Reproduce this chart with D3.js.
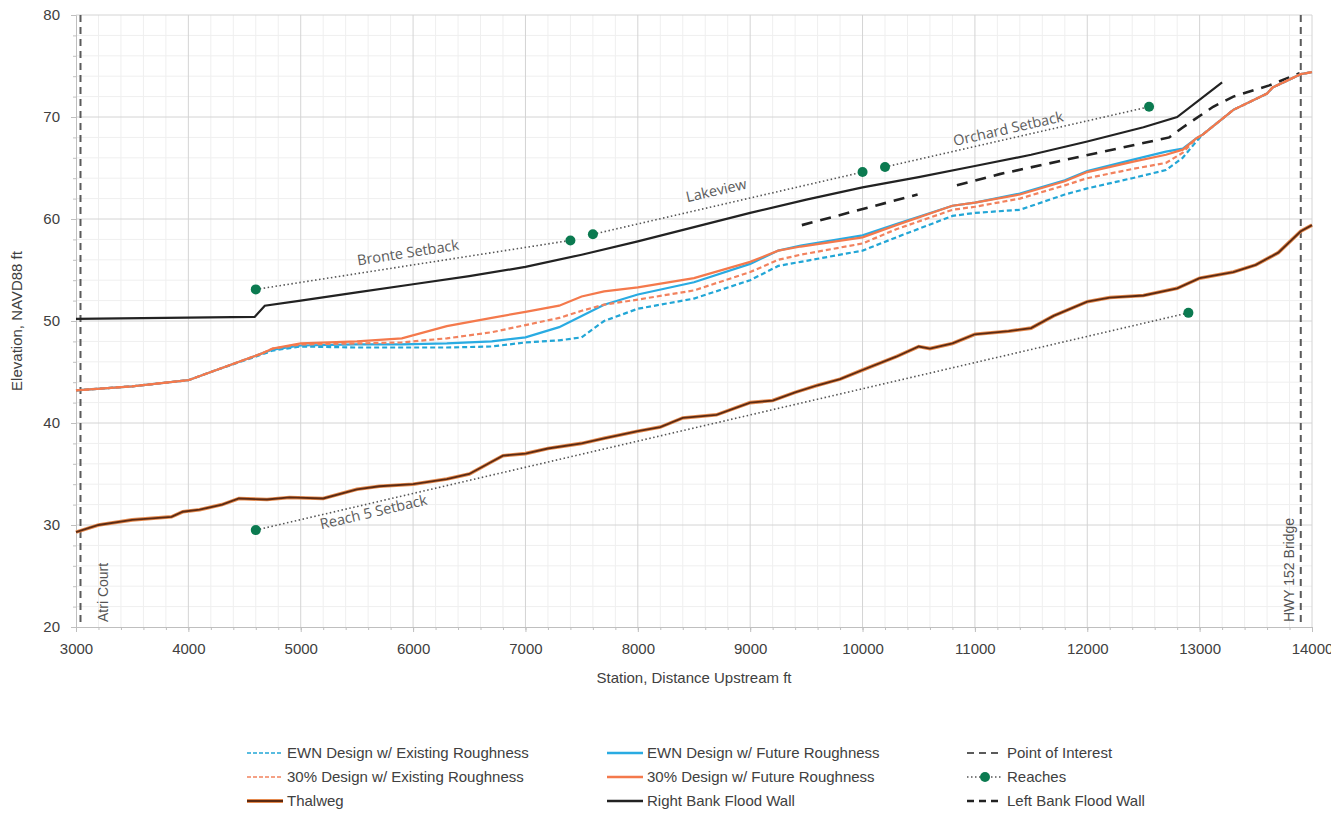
<!DOCTYPE html>
<html>
<head>
<meta charset="utf-8">
<script src="https://cdn.jsdelivr.net/npm/d3@7"></script>
<style>
  body { margin: 0; background: #fff; }
  text { font-family: "Liberation Sans", Arial, sans-serif; }
</style>
</head>
<body>
<div id="chart"></div>
<script>
// ---- Water surface profiles (shared stations) ----
const stations = [3000, 3500, 4000, 4250, 4650, 4750, 5000, 5500, 5900, 6300, 6700, 7000, 7300, 7500, 7700, 8000, 8500, 9000, 9250, 9450, 10000, 10300, 10800, 11000, 11400, 11800, 12000, 12400, 12700, 12850, 12970, 13030, 13300, 13600, 13650, 13900, 14000];
const ewnExisting = [43.2, 43.6, 44.2, 45.2, 46.7, 47.1, 47.5, 47.4, 47.4, 47.4, 47.5, 47.9, 48.1, 48.4, 50.0, 51.2, 52.2, 54.0, 55.4, 55.8, 56.9, 58.2, 60.3, 60.6, 60.9, 62.4, 63.0, 64.0, 64.8, 66.0, 67.6, 68.3, 70.7, 72.3, 72.9, 74.2, 74.4];
const ewnFuture = [43.2, 43.6, 44.2, 45.2, 46.8, 47.2, 47.6, 47.7, 47.7, 47.8, 48.0, 48.4, 49.4, 50.5, 51.6, 52.6, 53.8, 55.6, 56.9, 57.4, 58.4, 59.5, 61.3, 61.6, 62.5, 63.8, 64.7, 65.8, 66.6, 66.9, 67.9, 68.3, 70.7, 72.3, 72.9, 74.2, 74.4];
const d30Existing = [43.2, 43.6, 44.2, 45.2, 46.8, 47.3, 47.7, 47.8, 47.9, 48.3, 48.9, 49.6, 50.3, 51.0, 51.6, 52.1, 53.0, 54.8, 56.0, 56.5, 57.6, 59.0, 60.9, 61.2, 62.0, 63.3, 64.0, 64.9, 65.5, 66.5, 67.9, 68.3, 70.7, 72.3, 72.9, 74.2, 74.4];
const d30Future = [43.2, 43.6, 44.2, 45.2, 46.8, 47.3, 47.8, 48.0, 48.3, 49.5, 50.3, 50.9, 51.5, 52.4, 52.9, 53.3, 54.2, 55.8, 56.9, 57.3, 58.2, 59.4, 61.3, 61.6, 62.4, 63.7, 64.6, 65.6, 66.3, 66.8, 67.9, 68.3, 70.7, 72.3, 72.9, 74.2, 74.4];

// ---- Thalweg ----
const thalwegStations = [3000, 3200, 3500, 3850, 3950, 4100, 4300, 4450, 4700, 4900, 5200, 5500, 5700, 6000, 6300, 6500, 6700, 6800, 7000, 7200, 7500, 7700, 8000, 8200, 8400, 8700, 9000, 9200, 9400, 9600, 9800, 10000, 10300, 10500, 10600, 10800, 11000, 11300, 11500, 11700, 12000, 12200, 12500, 12800, 13000, 13300, 13500, 13700, 13900, 14000];
const thalwegElev = [29.3, 30.0, 30.5, 30.8, 31.3, 31.5, 32.0, 32.6, 32.5, 32.7, 32.6, 33.5, 33.8, 34.0, 34.5, 35.0, 36.2, 36.8, 37.0, 37.5, 38.0, 38.5, 39.2, 39.6, 40.5, 40.8, 42.0, 42.2, 43.0, 43.7, 44.3, 45.2, 46.5, 47.5, 47.3, 47.8, 48.7, 49.0, 49.3, 50.5, 51.9, 52.3, 52.5, 53.2, 54.2, 54.8, 55.5, 56.7, 58.8, 59.4];

// ---- Flood walls ----
const rightWallStations = [3000, 4590, 4680, 5000, 5500, 6000, 6500, 7000, 7500, 8000, 8500, 9000, 9500, 10000, 10500, 11000, 11500, 12000, 12500, 12800, 13200];
const rightWallElev = [50.2, 50.4, 51.5, 52.0, 52.8, 53.6, 54.4, 55.3, 56.5, 57.8, 59.2, 60.6, 61.9, 63.1, 64.1, 65.2, 66.3, 67.6, 69.0, 70.0, 73.4];
const leftWallStations = [9460, 10490, 10660, 10840, 11220, 12730, 12840, 13120, 13300, 13620, 13890];
const leftWallElev = [59.4, 62.4, null, 63.3, 64.4, 68.0, 68.9, 71.0, 72.0, 73.1, 74.3];

// ---- Reaches ----
const reachNames = ["Bronte Setback", "Lakeview", "Orchard Setback", "Reach 5 Setback"];
const reachStartStation = [4600, 7600, 10200, 4600];
const reachStartElev = [53.1, 58.5, 65.1, 29.5];
const reachEndStation = [7400, 10000, 12550, 12900];
const reachEndElev = [57.9, 64.6, 71.0, 50.8];

// ---- Points of interest ----
const poiNames = ["Atri Court", "HWY 152 Bridge"];
const poiStations = [3040, 13900];

// ---- Axis ticks ----
const xTicks = [3000, 4000, 5000, 6000, 7000, 8000, 9000, 10000, 11000, 12000, 13000, 14000];
const yTicks = [20, 30, 40, 50, 60, 70, 80];

const legendNames = [
    "EWN Design w/ Existing Roughness", "EWN Design w/ Future Roughness", "Point of Interest",
    "30% Design w/ Existing Roughness", "30% Design w/ Future Roughness", "Reaches",
    "Thalweg", "Right Bank Flood Wall", "Left Bank Flood Wall"
];

// Set the dimensions and margins of the graph
const margin = { top: 15, right: 19, bottom: 188, left: 76 },
    width = 1331 - margin.left - margin.right,
    height = 815 - margin.top - margin.bottom;

const svgRoot = d3.select("#chart")
    .append("svg")
    .attr("width", 1331)
    .attr("height", 815);

const svg = svgRoot.append("g")
    .attr("transform", `translate(${margin.left},${margin.top})`);

const x = d3.scaleLinear().domain([3000, 14000]).range([0, width]);
const y = d3.scaleLinear().domain([20, 80]).range([height, 0]);

// Minor gridlines
svg.append("g").selectAll("line")
    .data(d3.range(3200, 14000, 200).filter(v => v % 1000 !== 0))
    .join("line")
    .attr("x1", d => x(d)).attr("x2", d => x(d))
    .attr("y1", 0).attr("y2", height)
    .attr("stroke", "#efefef");
svg.append("g").selectAll("line")
    .data(d3.range(22, 80, 2).filter(v => v % 10 !== 0))
    .join("line")
    .attr("x1", 0).attr("x2", width)
    .attr("y1", d => y(d)).attr("y2", d => y(d))
    .attr("stroke", "#efefef");

// Major gridlines
svg.append("g").selectAll("line")
    .data(xTicks.slice(1))
    .join("line")
    .attr("x1", d => x(d)).attr("x2", d => x(d))
    .attr("y1", 0).attr("y2", height)
    .attr("stroke", "#d4d4d4");
svg.append("g").selectAll("line")
    .data(yTicks.slice(1))
    .join("line")
    .attr("x1", 0).attr("x2", width)
    .attr("y1", d => y(d)).attr("y2", d => y(d))
    .attr("stroke", "#d4d4d4");

// X axis
svg.append("g")
    .attr("transform", `translate(0,${height})`)
    .call(d3.axisBottom(x).tickValues(xTicks).tickFormat(d3.format("d")).tickSize(5).tickPadding(11));
svg.append("g")
    .attr("transform", `translate(0,${height})`)
    .call(d3.axisBottom(x).tickValues(d3.range(3200, 14000, 200)).tickFormat("").tickSize(3))
    .select(".domain").remove();

// Y axis
svg.append("g")
    .call(d3.axisLeft(y).tickValues(yTicks).tickSize(5).tickPadding(11));
svg.append("g")
    .call(d3.axisLeft(y).tickValues(d3.range(22, 80, 2)).tickFormat("").tickSize(3))
    .select(".domain").remove();

svg.selectAll(".domain, .tick line").attr("stroke", "#bfbfbf");
svg.selectAll(".tick text").attr("fill", "#404040").style("font-size", "15px");

svg.append("text")
    .attr("x", width / 2)
    .attr("y", height + 56)
    .attr("text-anchor", "middle")
    .attr("fill", "#404040")
    .style("font-size", "15px")
    .text("Station, Distance Upstream ft");

svg.append("text")
    .attr("transform", "rotate(-90)")
    .attr("x", -height / 2)
    .attr("y", -54)
    .attr("text-anchor", "middle")
    .attr("fill", "#404040")
    .style("font-size", "15px")
    .text("Elevation, NAVD88 ft");

// Points of interest
poiStations.forEach((s, i) => {
    svg.append("line")
        .attr("x1", x(s)).attr("x2", x(s))
        .attr("y1", 0).attr("y2", height)
        .attr("stroke", "#5a5a5a")
        .attr("stroke-width", 2)
        .attr("stroke-dasharray", "7,5");
    svg.append("text")
        .attr("transform", `translate(${x(s) + (i === 0 ? 28 : -7)},${height - 5}) rotate(-90)`)
        .attr("fill", "#555")
        .style("font-size", "14px")
        .text(poiNames[i]);
});

// Reaches
reachNames.forEach((name, i) => {
    const x1 = x(reachStartStation[i]), y1 = y(reachStartElev[i]);
    const x2 = x(reachEndStation[i]), y2 = y(reachEndElev[i]);
    svg.append("line")
        .attr("x1", x1).attr("y1", y1).attr("x2", x2).attr("y2", y2)
        .attr("stroke", "#555")
        .attr("stroke-width", 1.6)
        .attr("stroke-dasharray", "1.5,2.5");
    [[x1, y1], [x2, y2]].forEach(p => {
        svg.append("circle")
            .attr("cx", p[0]).attr("cy", p[1]).attr("r", 5)
            .attr("fill", "#0b7a50");
    });
    // label placement along the reach line
    const t = [0.49, 0.47, 0.475, 0.124][i];
    const off = [-13, -15, -10, 9][i];
    const ang = Math.atan2(y2 - y1, x2 - x1);
    const cx = x1 + t * (x2 - x1) - off * Math.sin(ang);
    const cy = y1 + t * (y2 - y1) + off * Math.cos(ang);
    svg.append("text")
        .attr("transform", `translate(${cx},${cy}) rotate(${ang * 180 / Math.PI})`)
        .attr("text-anchor", "middle")
        .attr("dy", "0.35em")
        .attr("fill", "#5c5c5c")
        .style("font-family", "'Open Sans', sans-serif")
        .style("font-size", "14.5px")
        .text(name);
});

const line = d3.line()
    .defined(d => d[1] !== null)
    .x(d => x(d[0]))
    .y(d => y(d[1]));

// Thalweg (orange edge with brown core)
const thalweg = thalwegStations.map((s, i) => [s, thalwegElev[i]]);
svg.append("path").datum(thalweg)
    .attr("d", line).attr("fill", "none")
    .attr("stroke", "#e58a4e").attr("stroke-width", 3.6);
svg.append("path").datum(thalweg)
    .attr("d", line).attr("fill", "none")
    .attr("stroke", "#5c2a12").attr("stroke-width", 1.8);

// Flood walls
svg.append("path").datum(rightWallStations.map((s, i) => [s, rightWallElev[i]]))
    .attr("d", line).attr("fill", "none")
    .attr("stroke", "#222").attr("stroke-width", 2.2);
svg.append("path").datum(leftWallStations.map((s, i) => [s, leftWallElev[i]]))
    .attr("d", line).attr("fill", "none")
    .attr("stroke", "#222").attr("stroke-width", 2.6)
    .attr("stroke-dasharray", "11,8");

// Water surface profiles
const profiles = [
    { values: ewnExisting, color: "#22a6d6", dash: "5,3" },
    { values: ewnFuture, color: "#29abe2", dash: null },
    { values: d30Existing, color: "#f2825e", dash: "5,3" },
    { values: d30Future, color: "#f4794c", dash: null }
];
profiles.forEach(p => {
    svg.append("path").datum(stations.map((s, i) => [s, p.values[i]]))
        .attr("d", line).attr("fill", "none")
        .attr("stroke", p.color).attr("stroke-width", 2.2)
        .attr("stroke-dasharray", p.dash);
});

// Legend
const legend = svgRoot.append("g");
const colX = [247, 607, 967], rowY = [753, 777, 801];
legendNames.forEach((name, i) => {
    const lx = colX[i % 3], ly = rowY[Math.floor(i / 3)];
    const g = legend.append("g").attr("transform", `translate(${lx},${ly})`);
    const seg = (stroke, w, dash) => g.append("line")
        .attr("x1", 0).attr("x2", 36).attr("y1", 0).attr("y2", 0)
        .attr("stroke", stroke).attr("stroke-width", w).attr("stroke-dasharray", dash);
    if (i === 0) seg("#22a6d6", 1.5, "4,2");
    if (i === 1) seg("#29abe2", 2.5, null);
    if (i === 2) seg("#5a5a5a", 1.8, "7,5");
    if (i === 3) seg("#f2825e", 1.5, "4,2");
    if (i === 4) seg("#f4794c", 2.5, null);
    if (i === 5) {
        seg("#555", 1.6, "1.5,2.5");
        g.append("circle").attr("cx", 18).attr("cy", 0).attr("r", 5).attr("fill", "#0b7a50");
    }
    if (i === 6) { seg("#e58a4e", 4, null); seg("#5c2a12", 2, null); }
    if (i === 7) seg("#222", 2.5, null);
    if (i === 8) seg("#222", 2.6, "7,5");
    g.append("text")
        .attr("x", 40).attr("y", 0).attr("dy", "0.35em")
        .attr("fill", "#404040")
        .style("font-size", "15px")
        .text(name);
});
</script>
</body>
</html>
